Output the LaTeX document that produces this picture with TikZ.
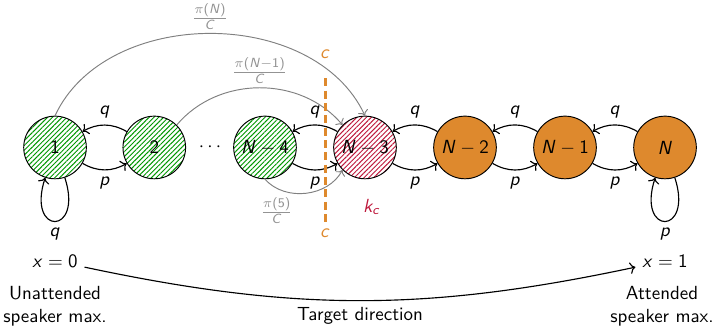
\documentclass[tikz,border=0pt]{standalone}
\renewcommand{\familydefault}{\sfdefault}
\DeclareSymbolFont{operators}{OT1}{cmss}{m}{n}
\DeclareSymbolFont{sfletters}{OT1}{cmss}{m}{sl}
\DeclareMathSymbol{x}{\mathalpha}{sfletters}{`x}
\DeclareMathSymbol{p}{\mathalpha}{sfletters}{`p}
\DeclareMathSymbol{q}{\mathalpha}{sfletters}{`q}
\DeclareMathSymbol{c}{\mathalpha}{sfletters}{`c}
\DeclareMathSymbol{k}{\mathalpha}{sfletters}{`k}
\DeclareMathSymbol{N}{\mathalpha}{sfletters}{`N}
\DeclareMathSymbol{C}{\mathalpha}{sfletters}{`C}
\DeclareMathSymbol{(}{\mathopen}{operators}{`(}
\DeclareMathSymbol{)}{\mathclose}{operators}{`)}
\usepackage{tikz}
\usetikzlibrary{patterns.meta,arrows.meta}
\definecolor{dirorange}{RGB}{222,137,45}
\definecolor{kcred}{RGB}{190,25,60}
\definecolor{hatchgreen}{RGB}{0,150,0}

\begin{document}
\begin{tikzpicture}[line width=0.6pt,
  state/.style={circle,draw,line width=0.5pt,minimum size=1.16cm,inner sep=0pt},
  unatt/.style={state,pattern={Lines[angle=45,distance=1.8pt,line width=0.5pt]},pattern color=hatchgreen},
  crit/.style={state,pattern={Lines[angle=45,distance=1.8pt,line width=0.5pt]},pattern color=kcred},
  att/.style={state,fill=dirorange},
  jump/.style={->,gray,line width=0.5pt},
  jumplabel/.style={gray!85,inner sep=2pt},
  cut/.style={dirorange,line width=1.6pt,dash pattern=on 4.2pt off 2.3pt},
  ]
  \useasboundingbox (0,-3.454) rectangle (13.185,2.731);
  % states
  \node[unatt] (n1) at (1.019,0) {$1$};
  \node[unatt] (n2) at (2.857,0) {$2$};
  \node (dots) at (3.889,0) {$\cdots$};
  \node[unatt] (n4) at (4.907,0) {$N-4$};
  \node[crit] (n3) at (6.759,0) {$N-3$};
  \node[att] (m2) at (8.611,0) {$N-2$};
  \node[att] (m1) at (10.463,0) {$N-1$};
  \node[att] (nN) at (12.315,0) {$N$};
  \node[kcred] (kc) at (6.889,-1.10) {$k_c$};
  % neighbour moves
  \draw[->] (n2) to[bend right] node[above] {$q$} (n1);
  \draw[->] (n1) to[bend right] node[below] {$p$} (n2);
  \draw[->] (n3) to[bend right] node[above] {$q$} (n4);
  \draw[->] (n4) to[bend right] node[below] {$p$} (n3);
  \draw[->] (m2) to[bend right] node[above] {$q$} (n3);
  \draw[->] (n3) to[bend right] node[below] {$p$} (m2);
  \draw[->] (m1) to[bend right] node[above] {$q$} (m2);
  \draw[->] (m2) to[bend right] node[below] {$p$} (m1);
  \draw[->] (nN) to[bend right] node[above] {$q$} (m1);
  \draw[->] (m1) to[bend right] node[below] {$p$} (nN);
  \draw[->] (n1) to[out=-72,in=-108,looseness=8] node[below] {$q$} (n1);
  \draw[->] (nN) to[out=-72,in=-108,looseness=8] node[below] {$p$} (nN);
  % jumps to k_c
  \draw[jump] (n1.north) to[bend left=65] node[jumplabel,above] {$\frac{\pi(N)}{C}$} (n3.north);
  \draw[jump] (n2.45) to[bend left=50] node[jumplabel,above] {$\frac{\pi(N-1)}{C}$} (n3.135);
  \draw[jump] (n4.south) to[bend right=55] node[jumplabel,below left,pos=0.4] {$\frac{\pi(5)}{C}$} (n3.-135);
  % threshold
  \node[dirorange] (ctop) at (6.019,1.731) {$c$};
  \node[dirorange] (cbot) at (6.019,-1.583) {$c$};
  \draw[cut,shorten <=7pt] (ctop) -- (cbot);
  % direction
  \node (x0) at (1.019,-2.10) {$x=0$};
  \node (x1) at (12.315,-2.10) {$x=1$};
  \node[align=center] (unatt) at (1.019,-2.935) {Unattended\\speaker max.};
  \node[align=center] (att) at (12.26,-2.935) {Attended\\speaker max.};
  \draw[->] (x0) to[bend right=12] node[below] {Target direction} (x1);
\end{tikzpicture}
\end{document}
